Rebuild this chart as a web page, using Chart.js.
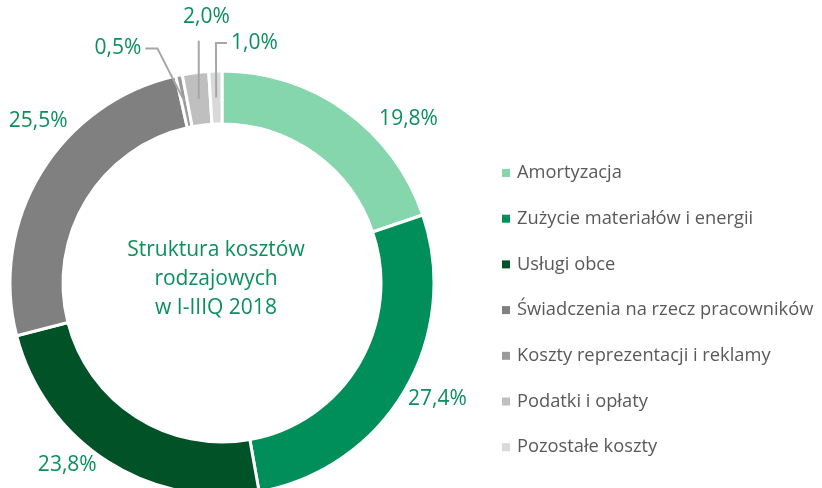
<!DOCTYPE html>
<html>
<head>
<meta charset="utf-8">
<script src="https://cdn.jsdelivr.net/npm/chart.js@4/dist/chart.umd.min.js"></script>
<style>
    body { margin: 0; background: #fff; }
    #wrap { width: 822px; height: 488px; }
</style>
</head>
<body>
<div id="wrap"><canvas id="costs" width="822" height="488"></canvas></div>
<script>
const categories = [
    'Amortyzacja',
    'Zużycie materiałów i energii',
    'Usługi obce',
    'Świadczenia na rzecz pracowników',
    'Koszty reprezentacji i reklamy',
    'Podatki i opłaty',
    'Pozostałe koszty'
];
const shares = [19.8, 27.4, 23.8, 25.5, 0.5, 2.0, 1.0];
const centerTitle = ['Struktura kosztów', 'rodzajowych', 'w I-IIIQ 2018'];

const colors = ['#85d5ad', '#008f5a', '#025227', '#808080', '#9a9a9a', '#bfbfbf', '#d9d9d9'];
const green = '#0c8f5e';
const font = '"Open Sans", sans-serif';

// label nudges from the arc's outer point, leader = draw a bent line to the slice
const labelStyle = [
    { dx: 63, dy: 8 },
    { dx: 33, dy: 8 },
    { dx: -40, dy: 4 },
    { dx: -3, dy: -51 },
    { dx: -61, dy: -27, leader: 'right' },
    { dx: 11, dy: -56, leader: 'down' },
    { dx: 39, dy: -28, leader: 'left' }
];

const fmt = (v) => v.toFixed(1).replace('.', ',') + '%';

const decorations = {
    id: 'decorations',
    afterDatasetsDraw(chart) {
        const ctx = chart.ctx;
        const arcs = chart.getDatasetMeta(0).data;

        ctx.save();
        ctx.font = '21px ' + font;
        ctx.fillStyle = green;
        ctx.textAlign = 'center';
        ctx.textBaseline = 'middle';

        arcs.forEach((arc, i) => {
            const mid = (arc.startAngle + arc.endAngle) / 2;
            const ox = arc.x + Math.cos(mid) * arc.outerRadius;
            const oy = arc.y + Math.sin(mid) * arc.outerRadius;
            const st = labelStyle[i];
            const lx = ox + st.dx;
            const ly = oy + st.dy;
            const text = fmt(shares[i]);
            ctx.fillText(text, lx, ly);

            if (st.leader) {
                const rm = (arc.outerRadius + arc.innerRadius) / 2;
                const ex = arc.x + Math.cos(mid) * rm;
                const ey = arc.y + Math.sin(mid) * rm;
                const w = ctx.measureText(text).width;
                ctx.save();
                ctx.strokeStyle = '#a6a6a6';
                ctx.lineWidth = 2;
                ctx.beginPath();
                if (st.leader == 'right') {
                    ctx.moveTo(lx + w / 2 + 4, ly);
                    ctx.lineTo(lx + w / 2 + 16, ly);
                } else if (st.leader == 'left') {
                    ctx.moveTo(lx - w / 2 - 4, ly);
                    ctx.lineTo(lx - w / 2 - 15, ly);
                } else {
                    ctx.moveTo(ex, ly + 24);
                }
                ctx.lineTo(ex, ey);
                ctx.stroke();
                ctx.restore();
            }
        });

        // center title
        const c = arcs[0];
        ctx.font = '21px ' + font;
        centerTitle.forEach((line, i) => {
            ctx.fillText(line, c.x - 6, c.y - 33 + i * 29);
        });

        // legend
        ctx.font = '18.3px ' + font;
        ctx.textAlign = 'left';
        categories.forEach((name, i) => {
            const y = 173 + i * 45.7;
            ctx.fillStyle = colors[i];
            ctx.fillRect(502, y - 4, 8, 8);
            ctx.fillStyle = '#595959';
            ctx.fillText(name, 517, y);
        });
        ctx.restore();
    }
};

new Chart(document.getElementById('costs').getContext('2d'), {
    type: 'doughnut',
    data: {
        labels: categories,
        datasets: [{
            data: shares,
            backgroundColor: colors,
            borderColor: '#ffffff',
            borderWidth: 3,
            radius: 212,
            cutout: '75%'
        }]
    },
    options: {
        responsive: false,
        animation: false,
        layout: {
            padding: { left: 0, right: 378, top: 78, bottom: 0 }
        },
        plugins: {
            legend: { display: false },
            tooltip: { enabled: false }
        }
    },
    plugins: [decorations]
});
</script>
</body>
</html>
